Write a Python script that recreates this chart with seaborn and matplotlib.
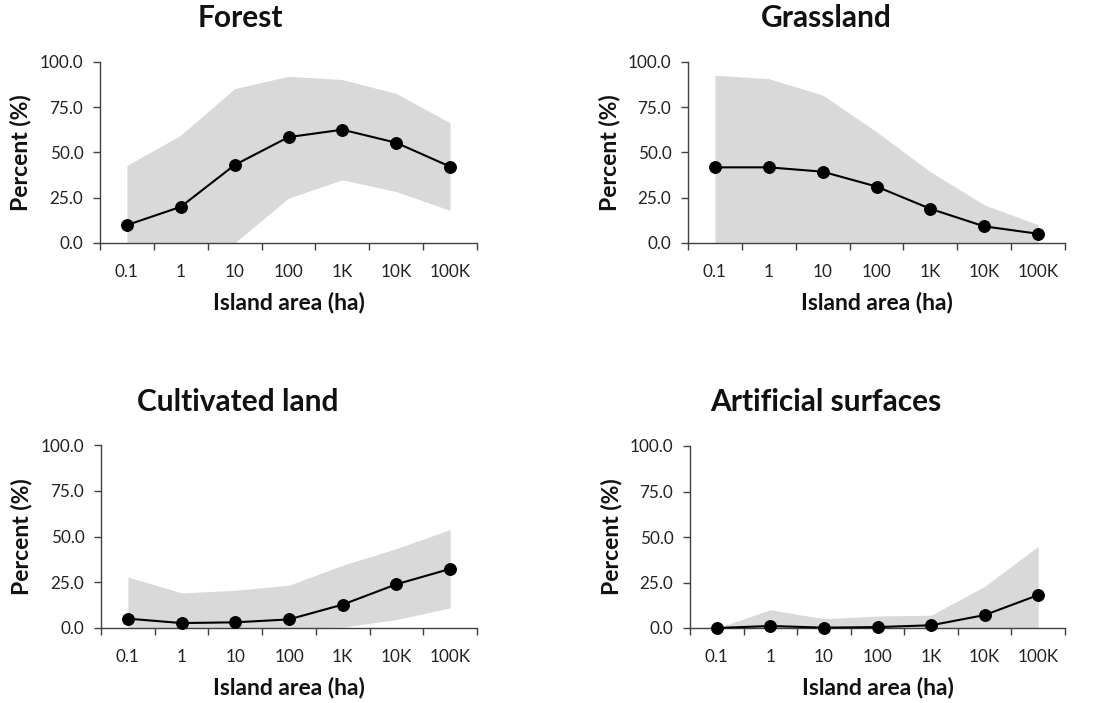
import matplotlib
matplotlib.use("Agg")
import matplotlib.pyplot as plt
import seaborn as sns
import pandas as pd
import numpy as np
from matplotlib.ticker import FixedLocator, FuncFormatter

sns.set_theme(style="white")
plt.rcParams['font.family'] = ['Lato', 'DejaVu Sans']

categories = ["0.1", "1", "10", "100", "1K", "10K", "100K"]

titles = ["Forest", "Grassland", "Cultivated land", "Artificial surfaces"]

forest_mean = [9.9, 20.0, 43.1, 58.5, 62.6, 55.4, 42.2]
forest_upper = [42.8, 59.6, 85.3, 92.1, 90.3, 82.6, 66.4]
forest_lower = [0.0, 0.0, 0.0, 24.8, 34.9, 28.4, 18.0]

grass_mean = [41.8, 41.8, 39.4, 31.2, 18.9, 9.2, 5.1]
grass_upper = [92.7, 90.8, 81.7, 61.5, 39.4, 21.1, 10.1]
grass_lower = [0.0, 0.0, 0.0, 0.0, 0.0, 0.0, 0.0]

cult_mean = [5.1, 2.7, 3.1, 4.7, 12.8, 23.9, 32.3]
cult_upper = [27.9, 19.2, 20.6, 23.4, 34.3, 43.4, 53.8]
cult_lower = [0.0, 0.0, 0.0, 0.0, 0.5, 4.6, 11.0]

art_mean = [0.0, 1.1, 0.2, 0.5, 1.5, 7.1, 18.1]
art_upper = [0.0, 10.0, 5.1, 6.6, 7.0, 22.9, 44.9]
art_lower = [0.0, 0.0, 0.0, 0.0, 0.0, 0.0, 0.0]

series = [
    (forest_mean, forest_upper, forest_lower),
    (grass_mean, grass_upper, grass_lower),
    (cult_mean, cult_upper, cult_lower),
    (art_mean, art_upper, art_lower),
]

W, H = 1096, 703
fig = plt.figure(figsize=(W / 100, H / 100), dpi=100)

# axes boxes in pixels: left, top, right, bottom
boxes = [(100, 62, 477, 243), (688, 62, 1065, 243),
         (101, 445, 477, 628), (690, 446, 1065, 628)]
title_pos = [(240, 18), (826, 18), (238, 402), (826, 402)]

for i, (title, (m, up, lo)) in enumerate(zip(titles, series)):
    l, t, r, b = boxes[i]
    ax = fig.add_axes([l / W, 1 - b / H, (r - l) / W, (b - t) / H])
    idx = np.arange(len(categories))
    df = pd.DataFrame({"idx": idx, "mean": m, "upper": up, "lower": lo,
                       "cat": categories})
    ax.fill_between(df["idx"], df["lower"], df["upper"], color="#d9d9d9",
                    linewidth=0, zorder=1)
    sns.lineplot(data=df, x="idx", y="mean", ax=ax, color="black",
                 linewidth=1.5, marker="o", markersize=8.5,
                 markeredgecolor="black", zorder=3, clip_on=False)
    ax.set_xlim(-0.5, len(categories) - 0.5)
    ax.set_ylim(0, 100)
    ax.set_yticks([0, 25, 50, 75, 100])
    ax.yaxis.set_major_formatter(FuncFormatter(lambda v, p: f"{v:.1f}"))
    ax.xaxis.set_major_locator(FixedLocator(np.arange(-0.5, len(categories), 1.0)))
    ax.xaxis.set_major_formatter(FuncFormatter(lambda v, p: ""))
    ax.xaxis.set_minor_locator(FixedLocator(idx))
    ax.xaxis.set_minor_formatter(FuncFormatter(lambda v, p: categories[int(round(v))]))
    ax.tick_params(axis="x", which="major", direction="out", length=5,
                   width=1, color="#404040", bottom=True)
    ax.tick_params(axis="x", which="minor", length=0, pad=15,
                   labelsize=12.3, labelcolor="#222222", bottom=True)
    ax.tick_params(axis="y", which="major", direction="out", length=5,
                   width=1, color="#404040", left=True, pad=7,
                   labelsize=12.3, labelcolor="#222222")
    for s in ["top", "right"]:
        ax.spines[s].set_visible(False)
    for s in ["left", "bottom"]:
        ax.spines[s].set_color("#404040")
        ax.spines[s].set_linewidth(1)
    ax.set_xlabel("Island area (ha)", fontsize=16.5, fontweight="bold",
                  color="#111111")
    ax.set_ylabel("Percent (%)", fontsize=16.5, fontweight="bold",
                  color="#111111")
    ax.xaxis.set_label_coords(0.5, -60 / (b - t))
    ax.xaxis.label.set_va("center")
    ax.yaxis.set_label_coords(-79 / (r - l), 0.5)
    ax.yaxis.label.set_va("center")
    ax.set_facecolor("white")
    tx, ty = title_pos[i]
    fig.text(tx / W, 1 - ty / H, title, ha="center", va="center",
             fontsize=21.5, fontweight="bold", color="#111111")

fig.savefig("out.png", dpi=100, facecolor="white")
